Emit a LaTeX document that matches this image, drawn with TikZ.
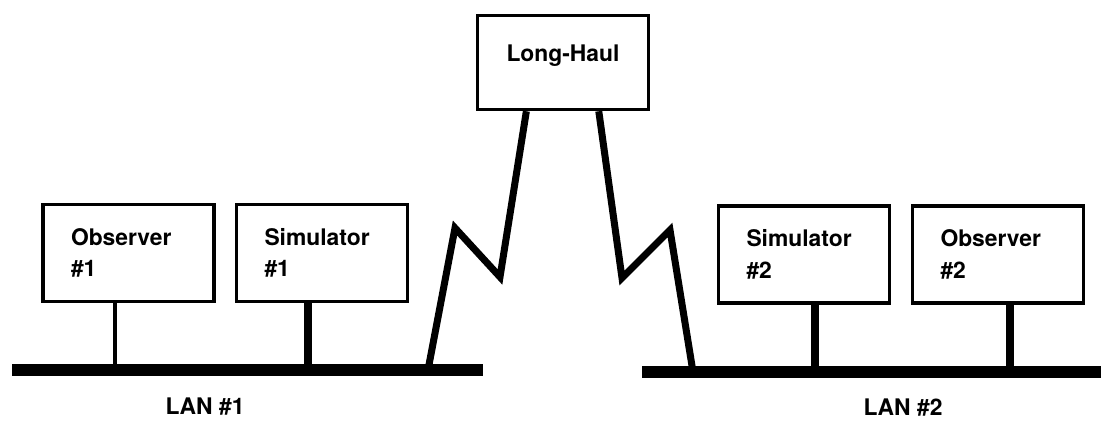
\documentclass[tikz,border=0pt]{standalone}
\usepackage{fontspec}
\setmainfont{TeX Gyre Heros}
\usetikzlibrary{calc}

\tikzset{
	station/.style={draw, line width=0.7mm, minimum width=3.42cm, minimum height=1.94cm,
		align=left, text width=2.3cm, inner xsep=0.56cm, font=\fontsize{13}{18}\selectfont\bfseries},
	lan/.style={line width=2.4mm},
	tap/.style={line width=1.6mm},
	link/.style={line width=1.4mm},
	netlabel/.style={font=\fontsize{13}{15}\selectfont\bfseries}
}

\begin{document}
\begin{tikzpicture}
		%%%%% START %%%%%
		\useasboundingbox (0, 0) rectangle (22.02, 8.42);
		
		% stations
		\node[station] (obs1) at (2.57, 3.36) {Observer\\\#1};
		\node[station] (sim1) at (6.44, 3.36) {Simulator\\\#1};
		\node[station] (sim2) at (16.08, 3.33) {Simulator\\\#2};
		\node[station] (obs2) at (19.96, 3.33) {Observer\\\#2};
		\node[station, align=center, text depth=11pt, minimum height=1.88cm] (haul) at (11.26, 7.17) {Long-Haul};
		
		% the two LANs
		\coordinate (lan1w) at (0.24, 1.02);
		\coordinate (lan1e) at (9.66, 1.02);
		\coordinate (lan2w) at (12.84, 0.98);
		\coordinate (lan2e) at (22.1, 0.98);
		\draw[lan] (lan1w) -- (lan1e);
		\draw[lan] (lan2w) -- (lan2e);
		\node[netlabel] (lan1) at (4.10, 0.28) {LAN \#1};
		\node[netlabel] (lan2) at (18.06, 0.26) {LAN \#2};
		
		% taps
		\coordinate (tapO1) at (2.30, 1.02);
		\coordinate (tapS1) at (6.16, 1.02);
		\coordinate (tapS2) at (16.30, 0.98);
		\coordinate (tapO2) at (20.20, 0.98);
		\draw[line width=0.8mm] (tapO1) -- (tapO1 |- obs1.south);
		\draw[tap] (tapS1) -- (tapS1 |- sim1.south);
		\draw[tap] (tapS2) -- (tapS2 |- sim2.south);
		\draw[tap] (tapO2) -- (tapO2 |- obs2.south);
		
		% long-haul links
		\coordinate (footL) at (8.56, 1.02);
		\coordinate (footR) at (13.86, 0.98);
		\draw[link] (footL) -- (9.10, 3.86) -- (10.00, 2.88) -- ($(haul.south west)!0.29!(haul.south east)$);
		\draw[link] ($(haul.south west)!0.705!(haul.south east)$) -- (12.44, 2.86) -- (13.40, 3.82) -- (footR);
		
		%%%%% END %%%%%
	\end{tikzpicture}
\end{document}
